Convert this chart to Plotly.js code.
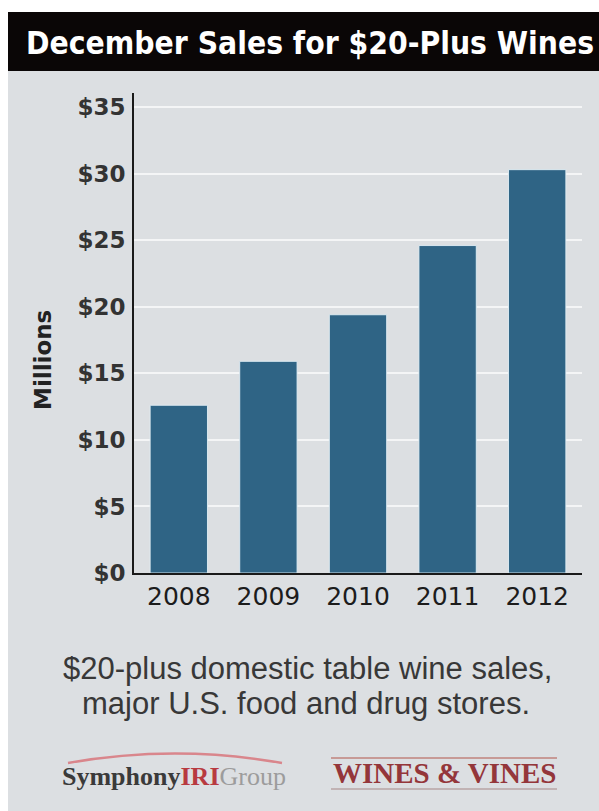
<!DOCTYPE html>
<html>
<head>
<meta charset="utf-8">
<script src="https://cdn.plot.ly/plotly-3.0.1.min.js"></script>
<style>
html,body{margin:0;padding:0;background:#ffffff;}
#chart{width:599px;height:811px;}
</style>
</head>
<body>
<div id="chart"></div>
<script>
// Data
const years = ["2008", "2009", "2010", "2011", "2012"];
const salesMillions = [12.6, 15.9, 19.4, 24.6, 30.3];
const yTickValues = [0, 5, 10, 15, 20, 25, 30, 35];
const yTickLabels = ["$0", "$5", "$10", "$15", "$20", "$25", "$30", "$35"];

const titleText = "December Sales for $20-Plus Wines";
const yAxisTitle = "Millions";
const captionLines = ["$20-plus domestic table wine sales,", "major U.S. food and drug stores."];

// Plot area geometry (pixels)
const L = 134, R = 582, T = 93, B = 573;
const W = R - L, H = B - T;
const px = v => (v - L) / W;
const py = v => (B - v) / H;

const bg = "#dcdfe2";

const trace = {
  type: "bar",
  x: years,
  y: salesMillions,
  width: 0.64,
  marker: { color: "#2f6485", line: { color: "rgba(225,238,245,0.9)", width: 1 } },
  hoverinfo: "x+y"
};

const layout = {
  width: 599,
  height: 811,
  margin: { l: L, r: 599 - R, t: T, b: 811 - B, pad: 0 },
  paper_bgcolor: "#ffffff",
  plot_bgcolor: bg,
  showlegend: false,
  bargap: 0.36,
  xaxis: {
    type: "category",
    range: [-0.5, 4.5],
    showline: true, linecolor: "#1a1a1a", linewidth: 2,
    showgrid: false, zeroline: false,
    ticks: "",
    tickfont: { family: "DejaVu Sans", size: 25, color: "#1c1c1c" },
    fixedrange: true
  },
  yaxis: {
    range: [0, 36.06],
    tickvals: yTickValues,
    ticktext: yTickLabels,
    showline: true, linecolor: "#1a1a1a", linewidth: 2,
    showgrid: true, gridcolor: "#f4f5f6", gridwidth: 2,
    zeroline: false,
    ticks: "",
    ticklabelstandoff: 2,
    tickfont: { family: "DejaVu Sans", size: 23, color: "#333333", weight: "bold" },
    fixedrange: true
  },
  shapes: [
    { type: "rect", xref: "paper", yref: "paper", layer: "below",
      x0: px(8), x1: px(599), y0: py(811), y1: py(12),
      fillcolor: bg, line: { width: 0 } },
    { type: "rect", xref: "paper", yref: "paper", layer: "below",
      x0: px(8), x1: px(599), y0: py(71), y1: py(12),
      fillcolor: "#0a0606", line: { width: 0 } },
    { type: "path", xref: "paper", yref: "paper", layer: "above",
      path: `M ${px(68)},${py(763)} Q ${px(175)},${py(744)} ${px(282)},${py(763)}`,
      line: { color: "#d9868c", width: 2.5 } },
    { type: "line", xref: "paper", yref: "paper",
      x0: px(331), x1: px(557), y0: py(758), y1: py(758),
      line: { color: "#c79a96", width: 2 } },
    { type: "line", xref: "paper", yref: "paper",
      x0: px(331), x1: px(557), y0: py(789), y1: py(789),
      line: { color: "#b9a5a5", width: 1.5 } }
  ],
  annotations: [
    { text: "<b>" + titleText + "</b>", xref: "paper", yref: "paper",
      x: px(310), y: py(43), xanchor: "center", yanchor: "middle", showarrow: false,
      font: { family: "DejaVu Sans Condensed", size: 31.5, color: "#ffffff" } },
    { text: "<b>" + yAxisTitle + "</b>", xref: "paper", yref: "paper",
      x: px(43), y: py(360), xanchor: "center", yanchor: "middle", showarrow: false,
      textangle: -90,
      font: { family: "DejaVu Sans", size: 23, color: "#222222" } },
    { text: captionLines[0], xref: "paper", yref: "paper",
      x: px(307), y: py(668), xanchor: "center", yanchor: "middle", showarrow: false,
      font: { family: "Liberation Sans", size: 31, color: "#383838" } },
    { text: captionLines[1], xref: "paper", yref: "paper",
      x: px(306), y: py(703), xanchor: "center", yanchor: "middle", showarrow: false,
      font: { family: "Liberation Sans", size: 31, color: "#383838" } },
    { text: "<b>Symphony</b><b><span style='color:#b83a40'>IRI</span></b><span style='color:#9c9c9c'>Group</span>",
      xref: "paper", yref: "paper",
      x: px(174), y: py(776), xanchor: "center", yanchor: "middle", showarrow: false,
      font: { family: "Liberation Serif", size: 26, color: "#3a3a3a" } },
    { text: "<b>WINES &amp; VINES</b>", xref: "paper", yref: "paper",
      x: px(444), y: py(773), xanchor: "center", yanchor: "middle", showarrow: false,
      font: { family: "Liberation Serif", size: 29, color: "#94363a" } }
  ]
};

Plotly.newPlot("chart", [trace], layout, { displayModeBar: false, staticPlot: true });
</script>
</body>
</html>
